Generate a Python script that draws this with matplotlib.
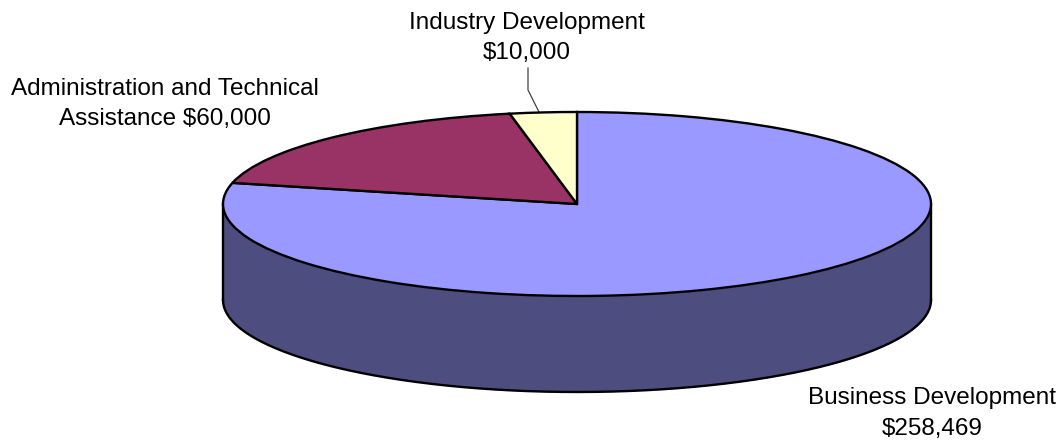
import numpy as np
import matplotlib
matplotlib.use("Agg")
import matplotlib.pyplot as plt

categories = ["Business Development", "Administration and Technical Assistance", "Industry Development"]
values = [258469, 60000, 10000]
colors = ["#9999FF", "#993366", "#FFFFCC"]
wall_color = "#4D4D80"

W, H = 1060, 441
cx, cy, rx, ry, depth = 577, 204, 354, 92, 96

fig = plt.figure(figsize=(W / 100, H / 100), dpi=100)
ax = fig.add_axes([0, 0, 1, 1])

# Extruded side wall (unit-circle coords; 1 unit = rx px in x, ry px in y)
d = depth / ry
t = np.linspace(np.pi, 2 * np.pi, 400)
xs, ys = np.cos(t), np.sin(t)
ax.fill_between(xs, ys, ys - d, color=wall_color, lw=0, zorder=1)
ax.plot(xs, ys - d, color="black", lw=1.7, zorder=2)
ax.plot([-1, -1], [0, -d], color="black", lw=1.7, zorder=2)
ax.plot([1, 1], [0, -d], color="black", lw=1.7, zorder=2)

# Top face
wedges, _ = ax.pie(values, colors=colors, startangle=90, counterclock=False, radius=1,
                   wedgeprops=dict(edgecolor="black", linewidth=1.7, zorder=3))
for w in wedges:
    w.set_zorder(3)

ax.set_aspect("auto")
ax.set_xlim((0 - cx) / rx, (W - cx) / rx)
ax.set_ylim((cy - H) / ry, cy / ry)
ax.axis("off")


def px(x, y):
    return (x - cx) / rx, (cy - y) / ry


# Leader line for the Industry Development label
lx, ly = zip(px(528, 68), px(528, 90), px(539, 112))
ax.plot(lx, ly, color="#404040", lw=0.9, zorder=2)

font = dict(family="Liberation Sans", fontsize=17.5, color="black", ha="center", va="center",
            linespacing=1.48)
ax.text(*px(165, 104), f"{'Administration and Technical'}\nAssistance ${values[1]:,}", **font)
ax.text(*px(527, 38), f"{categories[2]}\n${values[2]:,}", **font)
ax.text(*px(932, 413.5), f"{categories[0]}\n${values[0]:,}", **font)

fig.savefig("out.png", dpi=100, facecolor="white")
